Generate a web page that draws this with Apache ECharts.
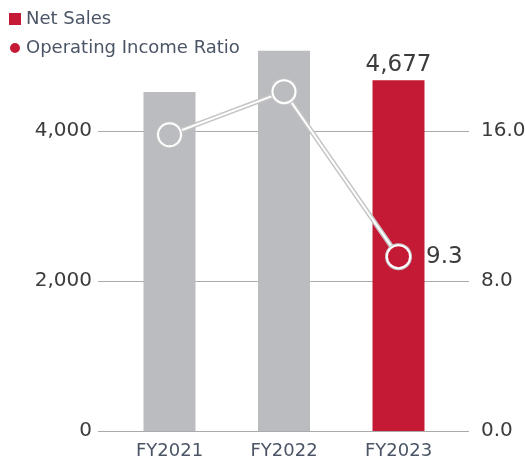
<!DOCTYPE html>
<html>
<head>
<meta charset="utf-8">
<script src="https://cdn.jsdelivr.net/npm/echarts@6/dist/echarts.min.js"></script>
<style>
  html, body { margin: 0; padding: 0; background: #fff; }
  #chart { width: 525px; height: 464px; }
</style>
</head>
<body>
<div id="chart"></div>
<script>
const years = ['FY2021', 'FY2022', 'FY2023'];
const netSales = [4520, 5070, 4677];
const incomeRatio = [15.8, 18.1, 9.3];
const salesTicks = [0, 6000, 2000];   // min, max, interval
const ratioTicks = [0, 24, 8];

const gray = '#bbbcc0';
const red = '#c41a35';
const font = '"DejaVu Sans", Verdana, sans-serif';

const chart = echarts.init(document.getElementById('chart'), null, { renderer: 'canvas' });

// last bar is highlighted red and carries its value
const barData = netSales.map((v, i) => {
  const last = i === netSales.length - 1;
  return {
    value: v,
    itemStyle: { color: last ? red : gray },
    label: {
      show: last,
      position: 'top',
      distance: 4,
      formatter: (p) => p.value.toLocaleString('en-US'),
      fontSize: 23,
      color: '#3c3c3c',
      fontFamily: font,
    },
  };
});

// circle fill matches the bar behind it so the line does not show through
const ratioData = incomeRatio.map((v, i) => {
  const last = i === incomeRatio.length - 1;
  return {
    value: v,
    itemStyle: { color: last ? red : gray },
    label: {
      show: last,
      position: 'right',
      distance: 15,
      formatter: (p) => p.value.toFixed(1),
      fontSize: 23,
      color: '#3c3c3c',
      fontFamily: font,
    },
  };
});

chart.setOption({
  animation: false,
  backgroundColor: '#fff',
  textStyle: { fontFamily: font },
  legend: {
    orient: 'vertical',
    left: 3,
    top: 5,
    itemWidth: 12,
    itemHeight: 12,
    itemGap: 11,
    textStyle: { fontSize: 18, color: '#4b5566', fontFamily: font },
    data: [
      { name: 'Net Sales', icon: 'rect', itemStyle: { color: red } },
      { name: 'Operating Income Ratio', icon: 'circle', itemStyle: { color: red } },
    ],
  },
  grid: [
    // wide grid: gridlines and y labels
    { left: 98, right: 56, top: -19, bottom: 33, outerBoundsMode: 'none' },
    // narrow grid: bars and line
    { left: 112.25, right: 69.25, top: -19, bottom: 33, outerBoundsMode: 'none' },
  ],
  xAxis: [
    { gridIndex: 0, type: 'category', data: years, show: false },
    {
      gridIndex: 1,
      type: 'category',
      data: years,
      axisLine: { show: false },
      axisTick: { show: false },
      axisLabel: { fontSize: 18, color: '#4b5566', margin: 11, fontFamily: font },
    },
  ],
  yAxis: [
    {
      gridIndex: 0,
      position: 'left',
      min: salesTicks[0], max: salesTicks[1], interval: salesTicks[2],
      axisLine: { show: false },
      axisTick: { show: false },
      axisLabel: {
        fontSize: 20, color: '#3c3c3c', margin: 6, fontFamily: font,
        formatter: (v) => v.toLocaleString('en-US'),
      },
      splitLine: { lineStyle: { color: '#aaaaaa', width: 1 } },
    },
    {
      gridIndex: 0,
      position: 'right',
      min: ratioTicks[0], max: ratioTicks[1], interval: ratioTicks[2],
      axisLine: { show: false },
      axisTick: { show: false },
      axisLabel: {
        fontSize: 20, color: '#3c3c3c', margin: 12, fontFamily: font,
        formatter: (v) => v.toFixed(1),
      },
      splitLine: { show: false },
    },
    { gridIndex: 1, min: salesTicks[0], max: salesTicks[1], show: false },
    { gridIndex: 1, min: ratioTicks[0], max: ratioTicks[1], show: false },
  ],
  series: [
    {
      name: 'Net Sales',
      type: 'bar',
      xAxisIndex: 1,
      yAxisIndex: 2,
      barWidth: 52,
      itemStyle: { color: red },
      data: barData,
    },
    {
      // gray outline under the white line
      name: 'ratio-outline',
      type: 'line',
      xAxisIndex: 1,
      yAxisIndex: 3,
      symbol: 'circle',
      symbolSize: 27,
      itemStyle: { color: '#c4c4c4' },
      lineStyle: { color: '#c4c4c4', width: 5 },
      data: incomeRatio,
      silent: true,
    },
    {
      name: 'Operating Income Ratio',
      type: 'line',
      xAxisIndex: 1,
      yAxisIndex: 3,
      symbol: 'circle',
      symbolSize: 23,
      itemStyle: { color: red, borderColor: '#fff', borderWidth: 2 },
      lineStyle: { color: '#fff', width: 2 },
      data: ratioData,
    },
  ],
});
</script>
</body>
</html>
